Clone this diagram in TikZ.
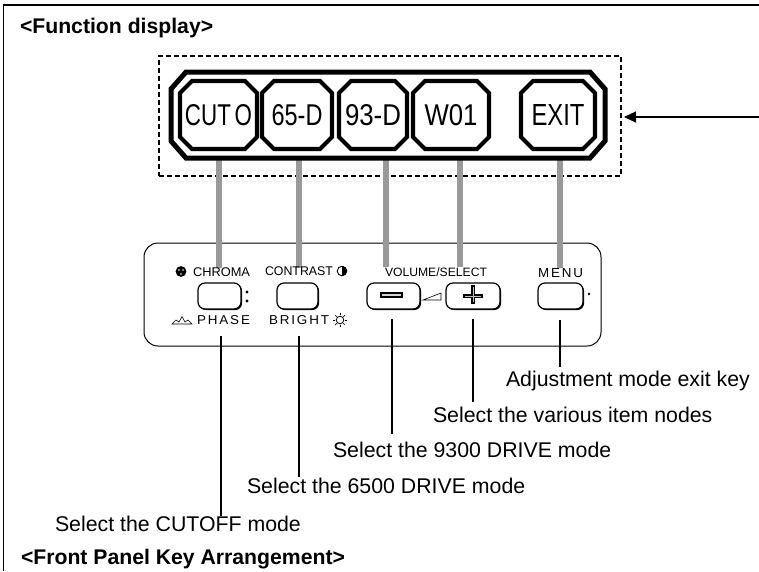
\documentclass[tikz,border=0pt]{standalone}
\usepackage{fontspec}
\usepackage{graphicx}
\setmainfont{Liberation Sans}
\usetikzlibrary{shadows,arrows.meta}
\newfontfamily\spacedfont[LetterSpace=14]{Liberation Sans}
\newcommand{\fitbox}[3]{\resizebox{#1pt}{#2pt}{#3}}
% \octagon{style}{name}{x1}{x2}{y1}{y2}{cx}{cy}{text}
\newcommand{\octagon}[9]{%
  \draw[#1] (#3+#7,#5) -- (#4-#7,#5) -- (#4,#5+#8) -- (#4,#6-#8) -- (#4-#7,#6) -- (#3+#7,#6) -- (#3,#6-#8) -- (#3,#5+#8) -- cycle;
  \node[inner sep=0pt,outer sep=0pt,minimum width=#4pt-#3pt,minimum height=#6pt-#5pt] (#2) at ({(#3+#4)/2},{(#5+#6)/2}) {#9};
}
\tikzset{
  px/.style={x=1pt,y=-1pt},
  octa/.style={draw=black,line width=4.2pt,fill=white,line join=miter},
  octaouter/.style={draw=black,line width=5pt,fill=white,line join=miter},
  keybtn/.style={draw=black,line width=1.2pt,fill=white,rounded corners=7pt,inner sep=0pt,outer sep=0pt,
    minimum height=26pt,general shadow={shadow xshift=1.1pt,shadow yshift=-1.1pt,fill=black}},
  grayline/.style={draw={rgb,255:red,153;green,153;blue,153},line width=6pt},
  leader/.style={draw=black,line width=1.1pt},
  caption/.style={font=\fontsize{21.3pt}{24pt}\selectfont,anchor=base west,inner sep=0pt,outer sep=0pt},
  headline/.style={font=\bfseries\fontsize{21.2pt}{24pt}\selectfont,anchor=base west,inner sep=0pt,outer sep=0pt},
  small/.style={anchor=base west,inner sep=0pt,outer sep=0pt}
}
\begin{document}
\begin{tikzpicture}[px]
\useasboundingbox (0,0) rectangle (759,571);
\fill[white] (0,0) rectangle (759,571);
% frame
\draw[line width=1.4pt] (759,5) -- (3.5,5) -- (3.5,571);
% dashed box
\node[draw=black,line width=1.2pt,dash pattern=on 5pt off 3pt,inner sep=0pt,outer sep=0pt,minimum width=462pt,minimum height=120pt] (dispbox) at (390,116) {};
% arrow
\coordinate (arrowstart) at (759,117);
\draw[line width=1.2pt,-{Triangle[length=12pt,width=11pt]}] (arrowstart) -- ([xshift=3pt,yshift=-1pt]dispbox.east);
% gray link coordinates
\coordinate (g1a) at (219,155); \coordinate (g1b) at (219,268);
\coordinate (g2a) at (299,155); \coordinate (g2b) at (299,268);
\coordinate (g3a) at (386,155); \coordinate (g3b) at (386,267);
\coordinate (g4a) at (460,155); \coordinate (g4b) at (460,267);
\coordinate (g5a) at (560,155); \coordinate (g5b) at (560,268);
% panel
\node[draw=black,line width=1pt,rounded corners=14pt,inner sep=0pt,outer sep=0pt,minimum width=457pt,minimum height=103pt] (panel) at (372.5,294.5) {};
\foreach \a/\b in {g1a/g1b,g2a/g2b,g3a/g3b,g4a/g4b,g5a/g5b} \draw[grayline] (\a) -- (\b);
% function display
\octagon{octaouter}{outerbar}{171}{605}{72}{158}{15}{17}{}
\octagon{octa}{cuto}{180}{257}{81}{149}{12}{12}{\raisebox{1pt}{\fitbox{67}{21}{CUT\,O}}}
\octagon{octa}{sixfive}{262}{332}{81}{149}{12}{12}{\raisebox{1pt}{\fitbox{51}{21}{65-D}}}
\octagon{octa}{ninethree}{339}{407}{81}{149}{12}{12}{\raisebox{1pt}{\fitbox{56}{21}{93-D}}}
\octagon{octa}{wzero}{413}{489}{81}{149}{12}{12}{\raisebox{1pt}{\fitbox{53}{21}{W01}}}
\octagon{octa}{exitkey}{521}{595}{81}{149}{12}{12}{\raisebox{1pt}{\fitbox{53}{21}{EXIT}}}
% keys
\node[keybtn,minimum width=43pt] (keychroma) at (219.5,296) {};
\node[keybtn,minimum width=41pt] (keycontrast) at (297.5,296) {};
\node[keybtn,minimum width=53pt] (keyminus) at (393.5,296) {};
\node[keybtn,minimum width=54pt] (keyplus) at (473,296) {};
\node[keybtn,minimum width=45pt] (keymenu) at (560.5,296) {};
% key labels
\node[small] (lchroma) at (193,276) {\fitbox{57}{8.8}{CHROMA}};
\node[small] (lcontrast) at (265,275) {\fitbox{68}{8.8}{CONTRAST}};
\node[small] (lphase) at (197,324) {\fitbox{53}{9}{\spacedfont PHASE}};
\node[small] (lbright) at (269,324) {\fitbox{60}{9}{\spacedfont BRIGHT}};
\node[small] (lvolume) at (385,276) {\fitbox{102}{8.8}{VOLUME/SELECT}};
\node[small] (lmenu) at (538,277) {\fitbox{45}{9}{\spacedfont MENU}};
% symbols
\fill (181,271.5) circle (5.4);
\fill[white] (179,270) circle (.9) (183,270) circle (.9) (181,274) circle (.9);
\draw[line width=.9pt] (342,271) circle (4.8);
\fill (342,266.2) arc[start angle=-90,end angle=90,radius=4.8] -- cycle;
\draw[line width=.6pt] (172,324) -- (192,324) -- (188,320) -- (185,322) -- (182,316.5) -- (179,322) -- (176,320) -- cycle;
\draw[line width=.8pt] (340,320) circle (3.8);
\foreach \r in {0,45,...,315} \draw[line width=.7pt] (340,320) ++(\r:4.6) -- ++(\r:2.4);
\draw[line width=.6pt] (423,300) -- (441,293) -- (441,300) -- cycle;
\fill (247,292) circle (1.6) (247,301) circle (1.6) (589,294) circle (1.3);
\draw[line width=1.3pt,fill=gray!35] (381,293) rectangle (402,297);
\draw[line width=3.4pt] (463,296) -- (483,296) (473,285) -- (473,304);
\draw[line width=1pt,gray!50] (465,296) -- (481,296) (473,287) -- (473,302);
% leaders
\coordinate (l1a) at (221,336); \coordinate (l1b) at (221,516);
\coordinate (l2a) at (299,336); \coordinate (l2b) at (299,477);
\coordinate (l3a) at (392,319); \coordinate (l3b) at (392,434);
\coordinate (l4a) at (473,319); \coordinate (l4b) at (473,402);
\coordinate (l5a) at (560,320); \coordinate (l5b) at (560,367);
\foreach \a/\b in {l1a/l1b,l2a/l2b,l3a/l3b,l4a/l4b,l5a/l5b} \draw[leader] (\a) -- (\b);
% captions
\node[headline] (headone) at (20,33) {<Function display>};
\node[headline] (headtwo) at (21,564) {<Front Panel Key Arrangement>};
\node[caption] (capmenu) at (506,386) {Adjustment mode exit key};
\node[caption] (capplus) at (433,422) {Select the various item nodes};
\node[caption] (capminus) at (333,457) {Select the 9300 DRIVE mode};
\node[caption] (capcontrast) at (247,493) {Select the 6500 DRIVE mode};
\node[caption] (capchroma) at (55,531) {Select the CUTOFF mode};
\end{tikzpicture}
\end{document}
